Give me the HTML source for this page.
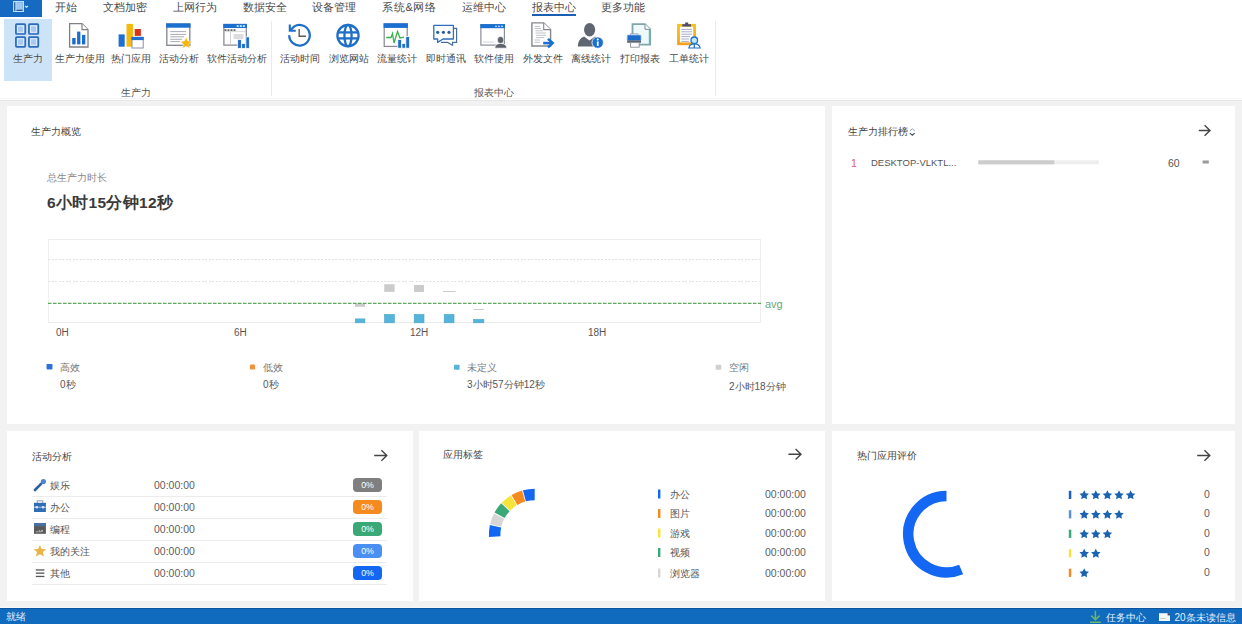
<!DOCTYPE html>
<html><head><meta charset="utf-8">
<style>
*{box-sizing:border-box;margin:0;padding:0}
html,body{width:1242px;height:624px;overflow:hidden;background:#f2f2f2;font-family:"Liberation Sans",sans-serif;color:#333}
.abs{position:absolute;white-space:nowrap}
#top{position:absolute;left:0;top:0;width:1242px;height:101px;background:#fff;border-bottom:1px solid #e6e6e6}
#topline{position:absolute;left:0;top:97.5px;width:1242px;height:1px;background:#f5f5f5}
.menu{position:absolute;top:0;font-size:11px;line-height:14px;color:#4a4a4a}
.rl{position:absolute;top:52px;font-size:10px;line-height:13px;color:#4a4a4a}
.gl{position:absolute;top:86px;font-size:10px;line-height:13px;color:#555}
.card{position:absolute;background:#fff}
.ttl{position:absolute;font-size:10px;line-height:13px;color:#444}
.axl{position:absolute;top:326px;font-size:10px;line-height:13px;color:#555}
.lgt{position:absolute;top:361px;font-size:10px;line-height:13px;color:#777}
.lgv{position:absolute;top:378px;font-size:10px;line-height:13px;color:#555}
.rw{position:absolute;left:50px;font-size:10px;line-height:13px;color:#555}
.rt{position:absolute;left:154px;font-size:10.5px;line-height:13px;color:#606060}
.bd{position:absolute;left:353px;width:29px;height:13.5px;border-radius:4px;color:#fff;font-size:8.8px;line-height:14px;text-align:center;letter-spacing:-0.2px}
.al{position:absolute;left:670px;font-size:10px;line-height:13px;color:#555}
.at{position:absolute;left:765px;font-size:10.5px;line-height:13px;color:#606060}
.rc{position:absolute;left:1204px;font-size:10.5px;line-height:13px;color:#606060}
#status{position:absolute;left:0;top:608px;width:1242px;height:16px;background:#106abd;border-top:1px solid #0b55a0;color:#e6f0ff;font-size:10px}
#stline{position:absolute;left:0;top:607px;width:1242px;height:1px;background:#f8f8f8}
</style></head><body>
<div id="top"></div>
<div id="topline"></div>
<!-- menu -->
<div class="abs" style="left:0;top:0;width:42px;height:16.5px;background:#176ac2"></div>
<div class="menu" style="left:55px">开始</div>
<div class="menu" style="left:103px">文档加密</div>
<div class="menu" style="left:173px">上网行为</div>
<div class="menu" style="left:243px">数据安全</div>
<div class="menu" style="left:312px">设备管理</div>
<div class="menu" style="left:382px;letter-spacing:0.7px">系统&amp;网络</div>
<div class="menu" style="left:462px">运维中心</div>
<div class="menu" style="left:532px">报表中心</div>
<div class="abs" style="left:532px;top:14px;width:44px;height:2px;background:#1a5fb4"></div>
<div class="menu" style="left:601px">更多功能</div>

<!-- ribbon -->
<div class="abs" style="left:3.5px;top:18.5px;width:48px;height:62px;background:#cde3f7"></div>
<div class="rl" style="left:13px">生产力</div>
<div class="rl" style="left:55px">生产力使用</div>
<div class="rl" style="left:111px">热门应用</div>
<div class="rl" style="left:159px">活动分析</div>
<div class="rl" style="left:207px">软件活动分析</div>
<div class="abs" style="left:271px;top:21px;width:1px;height:75px;background:#ebebeb"></div>
<div class="rl" style="left:280px">活动时间</div>
<div class="rl" style="left:329px">浏览网站</div>
<div class="rl" style="left:377px">流量统计</div>
<div class="rl" style="left:426px">即时通讯</div>
<div class="rl" style="left:474px">软件使用</div>
<div class="rl" style="left:523px">外发文件</div>
<div class="rl" style="left:571px">离线统计</div>
<div class="rl" style="left:620px">打印报表</div>
<div class="rl" style="left:669px">工单统计</div>
<div class="abs" style="left:715px;top:21px;width:1px;height:75px;background:#ebebeb"></div>

<svg class="abs" style="left:0;top:0" width="1242" height="100" viewBox="0 0 1242 100">
 <!-- top-left app button icon -->
 <rect x="13.6" y="1.5" width="9.9" height="10" fill="#86b6e8" stroke="#b8e0ff" stroke-width="1"/>
 <rect x="14.4" y="2.2" width="1.1" height="8.8" fill="#0d3c80"/>
 <rect x="15.5" y="2" width="1" height="9.2" fill="#c4e6ff"/>
 <rect x="17" y="3" width="5.4" height="6.5" fill="#9cc6ee"/>
 <rect x="16.5" y="9.8" width="6" height="1" fill="#143f80"/>
 <path d="M25 5.9 L26.5 7.4 L28 5.9" fill="none" stroke="#bfe0ff" stroke-width="1.2"/>
 <!-- 1 grid -->
 <g fill="#a9c8f2" stroke="#2b6cbc" stroke-width="1.7">
  <rect x="15.9" y="24.2" width="9.4" height="9.8" rx="0.8"/>
  <rect x="28.9" y="24.2" width="9.4" height="9.8" rx="0.8"/>
  <rect x="15.9" y="37.1" width="9.4" height="9.8" rx="0.8"/>
  <rect x="28.9" y="37.1" width="9.4" height="9.8" rx="0.8"/>
 </g>
 <g fill="none" stroke="#e6f0fb" stroke-width="0.9">
  <rect x="17.6" y="25.9" width="6" height="6.4"/><rect x="30.6" y="25.9" width="6" height="6.4"/>
  <rect x="17.6" y="38.8" width="6" height="6.4"/><rect x="30.6" y="38.8" width="6" height="6.4"/>
 </g>
 <!-- 2 doc chart -->
 <path d="M69.6 23.7 H82 L88 29.7 V47 H69.6 Z" fill="#fff" stroke="#808080" stroke-width="1.3"/>
 <path d="M82 23.7 V29.7 H88" fill="#fff" stroke="#808080" stroke-width="1.2"/>
 <g fill="#1a6ccf"><rect x="72.2" y="38" width="3.4" height="6.4"/><rect x="77.1" y="31.6" width="3.3" height="12.8"/><rect x="82" y="34.9" width="3.3" height="9.5"/></g>
 <!-- 3 hot apps -->
 <rect x="118.6" y="34.4" width="6.1" height="12.3" fill="#1f6fd0"/>
 <rect x="126.5" y="23.9" width="6.5" height="22.8" fill="#f5b90f"/>
 <rect x="134.7" y="29" width="6.2" height="6.9" fill="#d8341c"/>
 <rect x="132" y="37.4" width="11.2" height="10.6" fill="#fff" stroke="#8a8fa8" stroke-width="1"/>
 <rect x="131.5" y="36.9" width="12.2" height="3.2" fill="#1f6fd0"/>
 <!-- 4 activity analysis -->
 <rect x="166.8" y="24" width="23" height="21.3" fill="#fff" stroke="#80848c" stroke-width="1.3"/>
 <rect x="166.1" y="23.4" width="24.4" height="4.3" fill="#1a6fd0"/>
 <g stroke="#a0a4ae" stroke-width="0.9"><line x1="170.2" y1="31.6" x2="186" y2="31.6"/><line x1="170.2" y1="34.4" x2="186" y2="34.4"/><line x1="170.2" y1="36.8" x2="184" y2="36.8"/><line x1="170.2" y1="39.3" x2="182" y2="39.3"/><line x1="170.2" y1="41.6" x2="180" y2="41.6"/></g>
 <polygon points="186.10,37.10 187.80,40.95 192.00,41.38 188.86,44.20 189.74,48.32 186.10,46.20 182.46,48.32 183.34,44.20 180.20,41.38 184.40,40.95" fill="#f6b60a" stroke="#fff" stroke-width="0.5" stroke-linejoin="round"/>
 <!-- 5 software activity -->
 <rect x="223.9" y="24.5" width="22.4" height="20.6" fill="#fff" stroke="#80848c" stroke-width="1.2"/>
 <rect x="223.3" y="23.9" width="23.6" height="4.1" fill="#1a6fd0"/>
 <g fill="#bfe4ff"><rect x="236.7" y="25.1" width="2" height="1.9"/><rect x="239.8" y="25.1" width="2" height="1.9"/><rect x="242.8" y="25.1" width="2" height="1.9"/></g>
 <g fill="#666"><rect x="224.5" y="29.2" width="2" height="1.8"/><rect x="227.5" y="29.2" width="2" height="1.8"/><rect x="230.5" y="29.2" width="2" height="1.8"/><rect x="233.5" y="29.2" width="2" height="1.8"/></g>
 <line x1="224" y1="31.6" x2="246" y2="31.6" stroke="#c8c8c8" stroke-width="0.7"/>
 <line x1="230.5" y1="32" x2="230.5" y2="45" stroke="#c8c8c8" stroke-width="0.8"/>
 <rect x="233.5" y="34" width="10" height="5" fill="#ddd"/>
 <g fill="#1f6dc8" stroke="#fff" stroke-width="0.7"><rect x="237.7" y="39.7" width="3.6" height="8.6"/><rect x="241.7" y="43.6" width="3.6" height="4.7"/><rect x="245.9" y="36.9" width="3.4" height="11.4"/></g>
 <!-- 6 clock -->
 <path d="M289.2 35.3 A10.3 10.3 0 1 0 294 26.6 L290.6 30" fill="none" stroke="#1f6fc8" stroke-width="2.3"/>
 <path d="M289.8 24.6 V30.8 H295.8" fill="none" stroke="#1f6fc8" stroke-width="2.1"/>
 <path d="M299.2 29 V36.2 H306" fill="none" stroke="#5e5a58" stroke-width="1.4"/>
 <!-- 7 globe -->
 <g fill="none" stroke="#1f6fc8" stroke-width="2.3">
  <circle cx="348" cy="35.6" r="10.6"/>
  <ellipse cx="348" cy="35.6" rx="3.6" ry="10.7"/>
  <line x1="338" y1="32.4" x2="358" y2="32.4"/><line x1="338" y1="38.4" x2="358" y2="38.4"/>
 </g>
 <!-- 8 traffic -->
 <rect x="384.2" y="23.9" width="23" height="22.5" fill="#fff" stroke="#8a8698" stroke-width="1.2"/>
 <rect x="383.6" y="23.3" width="24.3" height="4.6" fill="#1a6fd0"/>
 <path d="M386.2 37.5 H391 L392.5 33.5 L394 43 L397.5 31.5 L400 38 L404 37.2" fill="none" stroke="#3db04a" stroke-width="1.3"/>
 <g fill="#1f6dc8" stroke="#fff" stroke-width="0.8"><rect x="397.8" y="39.4" width="3.8" height="8.8"/><rect x="401.9" y="43.5" width="3.8" height="4.7"/><rect x="405.8" y="36.6" width="3.8" height="11.6"/></g>
 <!-- 9 chat -->
 <path d="M454 28.4 H456.6 V42.4 H452.6 V45.2 L447.5 42.4 H441" fill="none" stroke="#4b6f9c" stroke-width="1.2"/>
 <path d="M434.6 25.4 H453.4 V39 H443 L437.6 42.4 V39 H433.8 V25.4 Z" fill="#fff" stroke="#2e6fbf" stroke-width="1.3" stroke-linejoin="round"/>
 <g fill="#2a5f9c"><circle cx="437.7" cy="32.3" r="1.6"/><circle cx="443.4" cy="32.3" r="1.6"/><circle cx="449" cy="32.3" r="1.6"/></g>
 <!-- 10 software use -->
 <rect x="480.9" y="24.7" width="23.5" height="20.4" fill="#fff" stroke="#8a8d94" stroke-width="1.2"/>
 <rect x="480.3" y="24.1" width="24.7" height="4.1" fill="#1a6fd0"/>
 <g fill="#cfe8ff"><circle cx="496" cy="26.3" r="0.9"/><circle cx="499" cy="26.3" r="0.9"/><circle cx="502" cy="26.3" r="0.9"/></g>
 <line x1="483" y1="42" x2="494" y2="42" stroke="#c8ccd4" stroke-width="0.8"/>
 <ellipse cx="500.6" cy="40" rx="3.3" ry="3.6" fill="#5d636c" stroke="#fff" stroke-width="0.7"/>
 <path d="M494.8 48.2 Q495 43.6 500.6 43.4 Q506.5 43.6 506.8 48.2 Z" fill="#5d636c" stroke="#fff" stroke-width="0.7"/>
 <!-- 11 send file -->
 <path d="M531.9 22.9 H543.7 L550.6 29.6 V46 H531.9 Z" fill="#fff" stroke="#85878c" stroke-width="1.4"/>
 <path d="M543.7 22.9 V29.6 H550.6" fill="#fff" stroke="#85878c" stroke-width="1.1"/>
 <g stroke="#b8bcc4" stroke-width="0.9"><line x1="534.5" y1="26.5" x2="540" y2="26.5"/><line x1="534.5" y1="28.5" x2="541" y2="28.5"/><line x1="535.5" y1="30.8" x2="543" y2="30.8"/><line x1="535.5" y1="33" x2="546" y2="33"/><line x1="536" y1="35.3" x2="546" y2="35.3"/><line x1="536" y1="37.6" x2="544" y2="37.6"/><line x1="534.5" y1="40" x2="540" y2="40"/><line x1="534.5" y1="42.3" x2="540" y2="42.3"/></g>
 <path d="M543.2 43.1 H553" fill="none" stroke="#1a6fd0" stroke-width="2.6"/>
 <path d="M548 38.9 L552.6 43.1 L548 47.4" fill="none" stroke="#1a6fd0" stroke-width="2.6"/>
 <!-- 12 offline -->
 <ellipse cx="589.6" cy="29.7" rx="5.6" ry="6.8" fill="#5f6671"/>
 <path d="M577.8 46.5 Q578 38.6 584 36.4 L589.5 40.5 L595 36.4 Q597 37 598 38 L596 46.5 Z" fill="#5f6671"/>
 <circle cx="597.7" cy="42.6" r="5.7" fill="#1a6fd0" stroke="#fff" stroke-width="0.8"/>
 <circle cx="597.7" cy="39.6" r="1" fill="#fff"/>
 <rect x="596.9" y="41.4" width="1.7" height="4.5" fill="#fff"/>
 <!-- 13 print -->
 <path d="M632.5 24.1 H645 L650.2 29.3 V44.7 H632.5 Z" fill="#eef9fb" stroke="#7fa7aa" stroke-width="1.8"/>
 <path d="M645 24.1 V29.3 H650.2" fill="#fff" stroke="#7d8a90" stroke-width="1"/>
 <line x1="649.3" y1="30" x2="649.3" y2="44" stroke="#4fc0a8" stroke-width="1"/>
 <rect x="630.4" y="33.9" width="7.5" height="2" fill="#fff" stroke="#8a97a8" stroke-width="0.8"/>
 <rect x="627.2" y="35" width="13.8" height="5.8" rx="1" fill="#1a6ccc" stroke="#9ab8e0" stroke-width="0.8"/>
 <rect x="627.2" y="40.4" width="13.8" height="2.4" fill="#5f6670"/>
 <rect x="630.6" y="42.6" width="8.6" height="4.6" fill="#fff" stroke="#8a8f98" stroke-width="0.9"/>
 <!-- 14 ticket -->
 <defs><linearGradient id="cbg" x1="0" y1="0" x2="0" y2="1"><stop offset="0" stop-color="#f6c417"/><stop offset="1" stop-color="#f4a21f"/></linearGradient></defs>
 <rect x="678.5" y="25.3" width="16.1" height="18.5" fill="#fff" stroke="url(#cbg)" stroke-width="2.8"/>
 <path d="M682.3 26.5 H691 V24.2 H688.2 V22.6 H685.2 V24.2 H682.3 Z" fill="#4a4a7a"/>
 <g stroke="#9098c0" stroke-width="0.8"><line x1="681.3" y1="29.4" x2="692" y2="29.4"/><line x1="681.3" y1="31.8" x2="692" y2="31.8"/><line x1="681.3" y1="34.2" x2="692" y2="34.2"/><line x1="681.3" y1="36.6" x2="690" y2="36.6"/><line x1="681.3" y1="39" x2="689" y2="39"/><line x1="681.3" y1="41.4" x2="689" y2="41.4"/></g>
 <circle cx="694.3" cy="40.3" r="3.3" fill="#bfe8f8" stroke="#1f6fc8" stroke-width="1.3"/>
 <path d="M688.8 48 Q689.5 43.8 694.3 43.8 Q699.4 43.8 700.2 48 Z" fill="#fff" stroke="#1f6fc8" stroke-width="1.2"/>
 <path d="M694.3 44 V48" stroke="#1f6fc8" stroke-width="1.3"/>
</svg>
<div class="gl" style="left:121px">生产力</div>
<div class="gl" style="left:474px">报表中心</div>

<!-- cards -->
<div class="card" style="left:7px;top:106px;width:818px;height:318px"></div>
<div class="card" style="left:832px;top:106px;width:403px;height:318px"></div>
<div class="card" style="left:7px;top:431px;width:406px;height:170px"></div>
<div class="card" style="left:419px;top:431px;width:406px;height:170px"></div>
<div class="card" style="left:832px;top:431px;width:403px;height:170px"></div>


<div class="abs" style="left:47px;top:171px;font-size:10px;line-height:13px;color:#888">总生产力时长</div>
<div class="abs" style="left:47px;top:192.5px;font-size:15.5px;line-height:20px;font-weight:bold;color:#3a3a3a;letter-spacing:0.3px">6小时15分钟12秒</div>
<svg class="abs" style="left:0;top:0" width="1242" height="430" viewBox="0 0 1242 430">
 <g shape-rendering="crispEdges">
 <line x1="48" y1="239.5" x2="761" y2="239.5" stroke="#eeeeee" stroke-width="1"/>
 <line x1="48.5" y1="239" x2="48.5" y2="323" stroke="#f0f0f0" stroke-width="1"/>
 <line x1="760.5" y1="239" x2="760.5" y2="323" stroke="#eeeeee" stroke-width="1"/>
 <line x1="48" y1="322.5" x2="761" y2="322.5" stroke="#ebebeb" stroke-width="1"/>
 <line x1="48" y1="259.5" x2="761" y2="259.5" stroke="#e3e3e3" stroke-width="1" stroke-dasharray="2 1.5"/>
 <line x1="48" y1="281.5" x2="761" y2="281.5" stroke="#e3e3e3" stroke-width="1" stroke-dasharray="2 1.5"/>
 </g>
 <g fill="#cccccc">
  <rect x="355" y="303.4" width="10" height="3.4"/>
  <rect x="384.2" y="284.2" width="10.4" height="7.7"/>
  <rect x="414" y="285" width="10" height="7"/>
  <rect x="443" y="291" width="12.6" height="1"/>
  <rect x="473.4" y="309" width="10.6" height="1"/>
 </g>
 <g fill="#55b4da" stroke="#4aa2c8" stroke-width="0.6">
  <rect x="355.3" y="318.9" width="9.6" height="3.9"/>
  <rect x="384.5" y="314.4" width="9.9" height="8.4"/>
  <rect x="414.2" y="314.4" width="9.8" height="8.4"/>
  <rect x="444.2" y="314.4" width="9.8" height="8.4"/>
  <rect x="473.6" y="319.4" width="10.3" height="3.4"/>
 </g>
 <line x1="48" y1="303.3" x2="761" y2="303.3" stroke="#359535" stroke-width="1" stroke-dasharray="3.5 1.5"/>
 <rect x="46.5" y="364" width="6" height="5.4" rx="0.8" fill="#2f6fe0"/>
 <rect x="250" y="364.5" width="5" height="5" rx="0.8" fill="#f0923a"/>
 <rect x="454" y="364.7" width="5.6" height="5" rx="0.8" fill="#55b4da"/>
 <rect x="715.7" y="364.7" width="5.6" height="5" rx="0.8" fill="#d0d0d0"/>
</svg>
<div class="abs" style="left:765px;top:296.5px;font-size:11px;line-height:14px;color:#6aa878">avg</div>
<div class="axl" style="left:56px">0H</div>
<div class="axl" style="left:234px">6H</div>
<div class="axl" style="left:410px">12H</div>
<div class="axl" style="left:588px">18H</div>
<div class="lgt" style="left:60px">高效</div>
<div class="lgv" style="left:60px">0秒</div>
<div class="lgt" style="left:263px">低效</div>
<div class="lgv" style="left:263px">0秒</div>
<div class="lgt" style="left:467px">未定义</div>
<div class="lgv" style="left:467px">3小时57分钟12秒</div>
<div class="lgt" style="left:729px">空闲</div>
<div class="lgv" style="left:729px;top:380px">2小时18分钟</div>
<div class="ttl" style="left:31px;top:125px">生产力概览</div>
<div class="ttl" style="left:848px;top:125px">生产力排行榜</div>
<div class="ttl" style="left:32px;top:450px">活动分析</div>
<div class="ttl" style="left:443px;top:448px">应用标签</div>
<div class="ttl" style="left:857px;top:449px">热门应用评价</div>


<!-- ranking -->
<div class="abs" style="left:871px;top:155.5px;font-size:9.5px;line-height:13px;color:#555">DESKTOP-VLKTL...</div>
<div class="abs" style="left:851px;top:157px;font-size:10.5px;line-height:13px;color:#e0557a">1</div>
<div class="abs" style="left:1168px;top:157px;font-size:10.5px;line-height:13px;color:#555">60</div>
<!-- activity rows -->
<div class="rw" style="top:479px">娱乐</div><div class="rt" style="top:479px">00:00:00</div>
<div class="rw" style="top:501px">办公</div><div class="rt" style="top:501px">00:00:00</div>
<div class="rw" style="top:523px">编程</div><div class="rt" style="top:523px">00:00:00</div>
<div class="rw" style="top:545px">我的关注</div><div class="rt" style="top:545px">00:00:00</div>
<div class="rw" style="top:567px">其他</div><div class="rt" style="top:567px">00:00:00</div>
<div class="bd" style="top:478px;background:#7f7f7f">0%</div>
<div class="bd" style="top:500px;background:#f58a1f">0%</div>
<div class="bd" style="top:522px;background:#3ba877">0%</div>
<div class="bd" style="top:544px;background:#4a90f2">0%</div>
<div class="bd" style="top:566px;background:#1467f2">0%</div>
<!-- app tags legend -->
<div class="al" style="top:488px">办公</div><div class="at" style="top:488px">00:00:00</div>
<div class="al" style="top:507px">图片</div><div class="at" style="top:507px">00:00:00</div>
<div class="al" style="top:527px">游戏</div><div class="at" style="top:527px">00:00:00</div>
<div class="al" style="top:546px">视频</div><div class="at" style="top:546px">00:00:00</div>
<div class="al" style="top:567px">浏览器</div><div class="at" style="top:567px">00:00:00</div>
<!-- rating counts -->
<div class="rc" style="top:488px">0</div>
<div class="rc" style="top:507px">0</div>
<div class="rc" style="top:527px">0</div>
<div class="rc" style="top:546px">0</div>
<div class="rc" style="top:566px">0</div>
<svg class="abs" style="left:0;top:0" width="1242" height="624" viewBox="0 0 1242 624">
 <!-- sort icon -->
 <path d="M909.8 130.8 L912.3 128.8 L914.7 130.8" fill="none" stroke="#8fa0b8" stroke-width="1"/>
 <path d="M909.8 133.1 L912.3 135.2 L914.7 133.1" fill="none" stroke="#3e4e66" stroke-width="1.1"/>
 <!-- arrows -->
 <g fill="none" stroke="#444" stroke-width="1.4">
  <path d="M1198.8 130.5 H1210 M1204.6 125.2 L1210 130.5 L1204.6 135.8"/>
  <path d="M374.2 455.5 H386.8 M381.4 450.2 L386.8 455.5 L381.4 460.8"/>
  <path d="M788.4 454.3 H801 M795.6 449 L801 454.3 L795.6 459.6"/>
  <path d="M1197.2 455.5 H1209.8 M1204.4 450.2 L1209.8 455.5 L1204.4 460.8"/>
 </g>
 <!-- rank bar -->
 <rect x="978.3" y="160.3" width="120.5" height="4" fill="#eeeeee"/>
 <rect x="978.3" y="160.3" width="76" height="4" fill="#cccccc"/>
 <rect x="1202.6" y="160.5" width="6.2" height="3" fill="#9a9a9a"/>
 <!-- row lines -->
 <g fill="#ececec">
  <rect x="32" y="496" width="355" height="1"/><rect x="32" y="518" width="355" height="1"/>
  <rect x="32" y="540" width="355" height="1"/><rect x="32" y="562" width="355" height="1"/>
  <rect x="32" y="584" width="355" height="1"/>
 </g>
 <!-- mic -->
 <path d="M35 490 L41.3 483.6" stroke="#2f5f9c" stroke-width="2.6" stroke-linecap="round"/>
 <circle cx="43.4" cy="481.5" r="2.6" fill="#4c86cc"/>
 <!-- briefcase -->
 <rect x="37.3" y="500.8" width="5.4" height="2.8" fill="none" stroke="#8f9fb4" stroke-width="1"/>
 <rect x="34" y="502.8" width="11.9" height="9.2" fill="#2f6db5"/>
 <rect x="34" y="506.7" width="11.9" height="1" fill="#9fc0ea"/>
 <circle cx="36.8" cy="507.2" r="1.3" fill="#dde8f5"/><circle cx="43.1" cy="507.2" r="1.3" fill="#dde8f5"/>
 <!-- code -->
 <rect x="34" y="523" width="11.9" height="10.8" fill="#5a5a5a"/>
 <rect x="34" y="523" width="11.9" height="3.2" fill="#4a6fa5"/>
 <path d="M36 531.8 h2.5 M39.3 530 v1.8 h2 v-1.8 M42.5 530 v1.8" stroke="#ccc" stroke-width="0.8" fill="none"/>
 <!-- star -->
 <path d="M39.9 544.9 L41.7 548.9 L46.2 549.2 L42.8 552.1 L43.9 556.6 L39.9 554.2 L35.9 556.6 L37 552.1 L33.6 549.2 L38.1 548.9 Z" fill="#e9b548"/>
 <!-- hamburger -->
 <g fill="#555"><rect x="35.8" y="569.3" width="8.6" height="1.3"/><rect x="35.8" y="572.5" width="8.6" height="1.3"/><rect x="35.8" y="575.8" width="8.6" height="1.3"/></g>
 <!-- app tags arc -->
 <g id="arcs"><path d="M488.96 536.90 A45.8 45.8 0 0 1 489.88 525.06 L501.14 527.43 A34.3 34.3 0 0 0 500.45 536.30 Z" fill="#1467f2"/><path d="M490.09 524.12 A45.8 45.8 0 0 1 494.04 513.42 L504.25 518.72 A34.3 34.3 0 0 0 501.29 526.73 Z" fill="#d6d6d6"/><path d="M494.49 512.58 A45.8 45.8 0 0 1 501.15 503.32 L509.57 511.15 A34.3 34.3 0 0 0 504.59 518.08 Z" fill="#3ba877"/><path d="M501.81 502.63 A45.8 45.8 0 0 1 510.70 495.49 L516.73 505.29 A34.3 34.3 0 0 0 510.07 510.63 Z" fill="#f7e43a"/><path d="M511.52 495.00 A45.8 45.8 0 0 1 522.00 490.50 L525.19 501.55 A34.3 34.3 0 0 0 517.34 504.92 Z" fill="#f58a1f"/><path d="M522.92 490.24 A45.8 45.8 0 0 1 534.70 488.70 L534.70 500.20 A34.3 34.3 0 0 0 525.88 501.35 Z" fill="#1467f2"/></g>
 <!-- app legend bars -->
 <rect x="658" y="489.5" width="2.4" height="9" fill="#1467f2"/>
 <rect x="658" y="509" width="2.4" height="9" fill="#f58a1f"/>
 <rect x="658" y="528.5" width="2.4" height="9" fill="#f7e43a"/>
 <rect x="658" y="548" width="2.4" height="9" fill="#3ba877"/>
 <rect x="658" y="568.5" width="2.4" height="9" fill="#d6d6d6"/>
 <!-- rating donut -->
 <path d="M946.5 495.9 A38.25 38.25 0 1 0 961.14 569.49" fill="none" stroke="#1467f2" stroke-width="10.5"/>
 <!-- rating legend -->
 <rect x="1068.8" y="490.8" width="2.5" height="8.2" fill="#1f5fbf"/>
 <rect x="1068.8" y="510.2" width="2.5" height="8.2" fill="#5b8fd8"/>
 <rect x="1068.8" y="529.7" width="2.5" height="8.2" fill="#3ba877"/>
 <rect x="1068.8" y="549.2" width="2.5" height="8.2" fill="#f7e43a"/>
 <rect x="1068.8" y="568.7" width="2.5" height="8.2" fill="#f08a24"/>
 <g id="stars" fill="#1b63b0"><polygon points="1084.20,490.20 1085.67,493.18 1088.96,493.65 1086.58,495.97 1087.14,499.25 1084.20,497.70 1081.26,499.25 1081.82,495.97 1079.44,493.65 1082.73,493.18"/><polygon points="1095.80,490.20 1097.27,493.18 1100.56,493.65 1098.18,495.97 1098.74,499.25 1095.80,497.70 1092.86,499.25 1093.42,495.97 1091.04,493.65 1094.33,493.18"/><polygon points="1107.40,490.20 1108.87,493.18 1112.16,493.65 1109.78,495.97 1110.34,499.25 1107.40,497.70 1104.46,499.25 1105.02,495.97 1102.64,493.65 1105.93,493.18"/><polygon points="1119.00,490.20 1120.47,493.18 1123.76,493.65 1121.38,495.97 1121.94,499.25 1119.00,497.70 1116.06,499.25 1116.62,495.97 1114.24,493.65 1117.53,493.18"/><polygon points="1130.60,490.20 1132.07,493.18 1135.36,493.65 1132.98,495.97 1133.54,499.25 1130.60,497.70 1127.66,499.25 1128.22,495.97 1125.84,493.65 1129.13,493.18"/><polygon points="1084.20,509.70 1085.67,512.68 1088.96,513.15 1086.58,515.47 1087.14,518.75 1084.20,517.20 1081.26,518.75 1081.82,515.47 1079.44,513.15 1082.73,512.68"/><polygon points="1095.80,509.70 1097.27,512.68 1100.56,513.15 1098.18,515.47 1098.74,518.75 1095.80,517.20 1092.86,518.75 1093.42,515.47 1091.04,513.15 1094.33,512.68"/><polygon points="1107.40,509.70 1108.87,512.68 1112.16,513.15 1109.78,515.47 1110.34,518.75 1107.40,517.20 1104.46,518.75 1105.02,515.47 1102.64,513.15 1105.93,512.68"/><polygon points="1119.00,509.70 1120.47,512.68 1123.76,513.15 1121.38,515.47 1121.94,518.75 1119.00,517.20 1116.06,518.75 1116.62,515.47 1114.24,513.15 1117.53,512.68"/><polygon points="1084.20,529.20 1085.67,532.18 1088.96,532.65 1086.58,534.97 1087.14,538.25 1084.20,536.70 1081.26,538.25 1081.82,534.97 1079.44,532.65 1082.73,532.18"/><polygon points="1095.80,529.20 1097.27,532.18 1100.56,532.65 1098.18,534.97 1098.74,538.25 1095.80,536.70 1092.86,538.25 1093.42,534.97 1091.04,532.65 1094.33,532.18"/><polygon points="1107.40,529.20 1108.87,532.18 1112.16,532.65 1109.78,534.97 1110.34,538.25 1107.40,536.70 1104.46,538.25 1105.02,534.97 1102.64,532.65 1105.93,532.18"/><polygon points="1084.20,548.70 1085.67,551.68 1088.96,552.15 1086.58,554.47 1087.14,557.75 1084.20,556.20 1081.26,557.75 1081.82,554.47 1079.44,552.15 1082.73,551.68"/><polygon points="1095.80,548.70 1097.27,551.68 1100.56,552.15 1098.18,554.47 1098.74,557.75 1095.80,556.20 1092.86,557.75 1093.42,554.47 1091.04,552.15 1094.33,551.68"/><polygon points="1084.20,568.20 1085.67,571.18 1088.96,571.65 1086.58,573.97 1087.14,577.25 1084.20,575.70 1081.26,577.25 1081.82,573.97 1079.44,571.65 1082.73,571.18"/></g>
</svg>
<div id="stline"></div>
<div id="status">
 <div class="abs" style="left:5.5px;top:1px;line-height:13px">就绪</div>
 <div class="abs" style="left:1105.5px;top:2px;line-height:13px">任务中心</div>
 <div class="abs" style="left:1174.5px;top:2px;line-height:13px">20条未读信息</div>
</div>
<svg class="abs" style="left:0;top:0" width="1242" height="624" viewBox="0 0 1242 624">
 <!-- status icons -->
 <path d="M1095.4 610.8 V619.5 M1091.2 615.6 L1095.4 619.8 L1099.6 615.6 M1090 622.2 H1100.8" fill="none" stroke="#6ab86a" stroke-width="1.5"/>
 <rect x="1159" y="613.2" width="11" height="7.8" fill="#f4f6fa"/>
 <path d="M1160.5 618.5 h5" stroke="#bbb" stroke-width="0.8"/>
 <rect x="1167.6" y="613.2" width="2.4" height="2.2" fill="#445"/>
</svg>
</body></html>
